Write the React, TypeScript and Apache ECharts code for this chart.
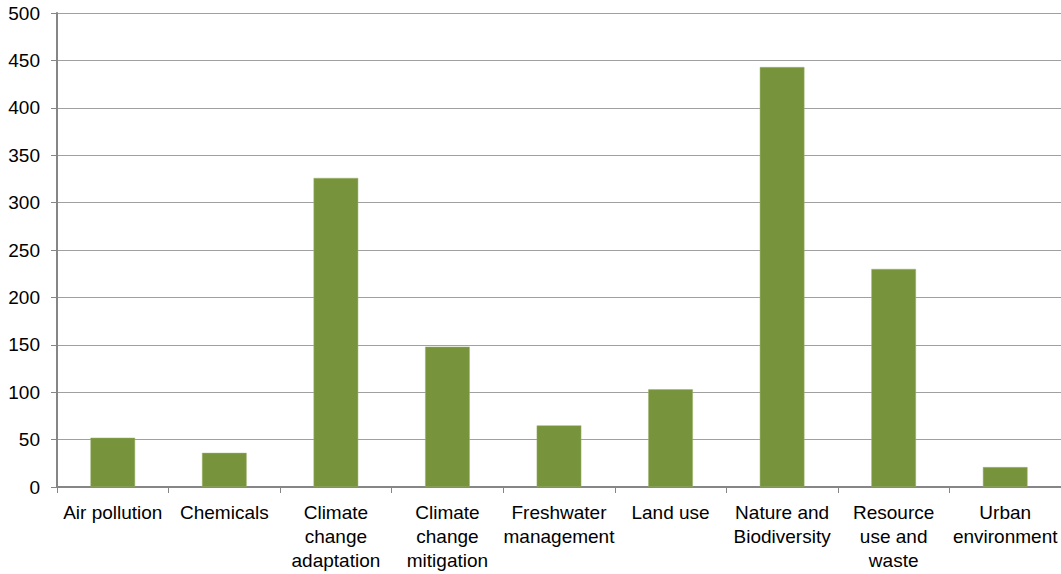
import React, { useEffect, useRef } from "react";
import * as echarts from "echarts";

const categories = [
  "Air pollution",
  "Chemicals",
  "Climate\nchange\nadaptation",
  "Climate\nchange\nmitigation",
  "Freshwater\nmanagement",
  "Land use",
  "Nature and\nBiodiversity",
  "Resource\nuse and\nwaste",
  "Urban\nenvironment",
];
const values = [52, 36, 326, 148, 65, 103, 443, 230, 21];
const yMin = 0;
const yMax = 500;
const yInterval = 50;

export default function App() {
  const ref = useRef<HTMLDivElement>(null);
  useEffect(() => {
    if (!ref.current) return;
    const chart = echarts.init(ref.current, undefined, { renderer: "svg" });
    const font = "'Liberation Sans', Arial, sans-serif";
    chart.setOption({
      animation: false,
      grid: { left: 57, right: 0, top: 13, bottom: 87, containLabel: false },
      xAxis: {
        type: "category",
        data: categories,
        axisLine: { show: true, lineStyle: { color: "#868686", width: 2 } },
        axisTick: { show: true, alignWithLabel: false, length: 6, lineStyle: { color: "#868686", width: 1 } },
        axisLabel: {
          interval: 0,
          color: "#000",
          fontFamily: font,
          fontSize: 19,
          lineHeight: 24,
          margin: 13,
        },
        splitLine: { show: false },
      },
      yAxis: {
        type: "value",
        min: yMin,
        max: yMax,
        interval: yInterval,
        axisLine: { show: true, lineStyle: { color: "#868686", width: 2 } },
        axisTick: { show: true, length: 6, lineStyle: { color: "#868686", width: 1 } },
        axisLabel: { color: "#000", fontFamily: font, fontSize: 19, margin: 17 },
        splitLine: { show: true, lineStyle: { color: "#A0A0A0", width: 1 } },
      },
      series: [
        {
          type: "bar",
          data: values,
          barCategoryGap: "60%",
          itemStyle: { color: "#77933C", borderColor: "#9AB46A", borderWidth: 0.5 },
        },
      ],
    });
    return () => chart.dispose();
  }, []);
  return (
    <div
      ref={ref}
      style={{ position: "fixed", left: 0, top: 0, width: 1061, height: 574, background: "#fff" }}
    />
  );
}
